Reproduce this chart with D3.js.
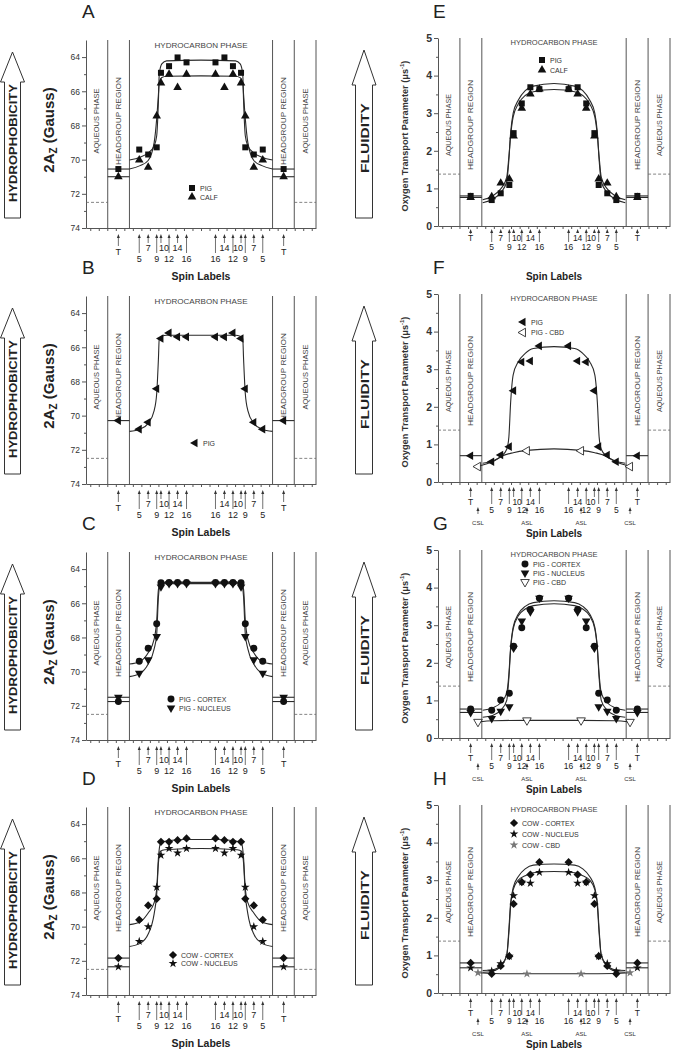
<!DOCTYPE html>
<html>
<head>
<meta charset="utf-8">
<script src="https://cdn.jsdelivr.net/npm/d3@7/dist/d3.min.js"></script>
<style>
  body { margin: 0; background: #fff; }
  svg { display: block; font-family: "Liberation Sans", Arial, sans-serif; }
</style>
</head>
<body>
<div id="fig"></div>
<script>
// spin-label positions across the bilayer (depth units, bilayer centre = 0, left leaflet)
const spinNames = ["T", "5", "7", "9", "10", "12", "14", "16"];
const spinPos = [-19.4, -14.5, -12.4, -10.4, -9.4, -7.5, -5.5, -3.4];
const upperNames = ["T", "7", "10", "14"];
const regionEdges = [-21.9, -16.8];          // aqueous|headgroup, headgroup|hydrocarbon
const cbdNames = ["CSL", "ASL"];
const cbdPos = [-17.7, -6.3];
const azTicks = [64, 66, 68, 70, 72, 74];
const otpTicks = [0, 1, 2, 3, 4, 5];
const azWater = 72.5;
const otpWater = 1.38;

// values per spin label, order = spinNames ; fits = [position, value] from headgroup edge to centre
// A
const aPig  = [70.55, 69.41, 69.7, 69.28, 64.92, 64.53, 64.02, 64.31];
const aCalf = [71.0, 70.02, 70.45, 67.45, 65.51, 65.0, 65.78, 65.0];
const aPigFit  = [[-16.8, 70.02], [-14.3, 69.86], [-12.4, 69.6], [-11.0, 69.2], [-10.4, 68.6], [-10.0, 66.6], [-9.8, 65.0], [-9.2, 64.4], [-8.1, 64.22], [0, 64.18]];
const aCalfFit = [[-16.8, 70.55], [-14.3, 70.35], [-12.4, 70.05], [-11.0, 69.0], [-10.4, 67.6], [-10.0, 66.2], [-9.8, 65.5], [-9.2, 65.2], [-8.1, 65.12], [0, 65.1]];
// B
const bPig = [70.29, 70.79, 70.39, 68.43, 65.49, 65.16, 65.39, 65.39];
const bPigFit = [[-16.8, 70.92], [-14.3, 70.79], [-12.4, 70.45], [-11.0, 69.7], [-10.4, 68.7], [-10.0, 66.7], [-9.8, 65.5], [-9.2, 65.35], [-8.1, 65.3], [0, 65.3]];
// C
const cCortex  = [71.75, 69.39, 68.63, 67.2, 64.8, 64.78, 64.78, 64.78];
const cNucleus = [71.5, 70.1, 69.31, 67.94, 65.04, 64.85, 64.85, 64.85];
const cCortexFit  = [[-16.8, 69.55], [-14.3, 69.4], [-12.4, 68.9], [-11.0, 68.1], [-10.4, 67.0], [-10.0, 65.2], [-9.6, 64.85], [-8.5, 64.78], [0, 64.78]];
const cNucleusFit = [[-16.8, 70.29], [-14.3, 70.1], [-12.4, 69.55], [-11.0, 68.67], [-10.4, 67.8], [-10.0, 65.65], [-9.6, 64.95], [-8.5, 64.85], [0, 64.85]];
// D
const dCortex  = [71.84, 69.6, 68.76, 68.37, 65.04, 65.04, 64.94, 64.84];
const dNucleus = [72.35, 70.86, 70.0, 67.69, 65.82, 65.43, 65.69, 65.43];
const dCortexFit  = [[-16.8, 69.88], [-14.3, 69.73], [-12.4, 69.2], [-11.0, 68.6], [-10.4, 67.8], [-10.0, 66.0], [-9.6, 65.2], [-8.5, 65.0], [-4.0, 64.9], [0, 64.9]];
const dNucleusFit = [[-16.8, 71.16], [-14.3, 70.98], [-12.4, 70.43], [-11.0, 69.25], [-10.4, 68.1], [-10.0, 66.3], [-9.6, 65.6], [-8.5, 65.5], [0, 65.43]];
// E
const ePig  = [0.80, 0.69, 0.87, 1.09, 2.47, 3.26, 3.69, 3.64];
const eCalf = [0.76, 0.78, 1.14, 1.25, 2.39, 3.13, 3.51, 3.64];
const ePigFit  = [[-16.6, 0.62], [-14.3, 0.71], [-12.3, 0.9], [-11.0, 1.18], [-10.5, 1.76], [-10.1, 2.47], [-9.5, 3.0], [-8.3, 3.35], [-6.7, 3.6], [-4.8, 3.72], [0, 3.79]];
const eCalfFit = [[-16.6, 0.70], [-14.3, 0.8], [-12.3, 1.0], [-11.0, 1.3], [-10.5, 1.85], [-10.1, 2.4], [-9.5, 2.9], [-8.3, 3.25], [-6.7, 3.47], [-4.8, 3.57], [0, 3.63]];
// F
const fPig = [0.70, 0.54, 0.72, 0.94, 2.43, 3.19, 3.22, 3.62];
const fCbd = [0.41, 0.83];
const fPigFit = [[-16.6, 0.5], [-14.3, 0.56], [-12.3, 0.68], [-11.0, 0.87], [-10.5, 1.2], [-10.1, 2.1], [-9.5, 2.85], [-8.3, 3.2], [-6.7, 3.42], [-4.8, 3.55], [0, 3.6]];
const fCbdFit = [[-17.7, 0.42], [-14.1, 0.55], [-12.3, 0.68], [-9.5, 0.78], [-6.3, 0.84], [0, 0.88]];
// G
const gCortex  = [0.77, 0.74, 1.01, 1.19, 2.44, 2.93, 3.42, 3.72];
const gNucleus = [0.68, 0.52, 0.71, 0.83, 2.39, 3.11, 3.36, 3.72];
const gCbd = [0.43, 0.47];
const gCortexFit  = [[-16.6, 0.74], [-14.3, 0.8], [-12.3, 0.95], [-11.0, 1.2], [-10.5, 1.7], [-10.1, 2.4], [-9.5, 2.95], [-8.3, 3.3], [-6.7, 3.5], [-4.8, 3.6], [0, 3.65]];
const gNucleusFit = [[-16.6, 0.55], [-14.3, 0.6], [-12.3, 0.75], [-11.0, 1.0], [-10.5, 1.6], [-10.1, 2.35], [-9.5, 2.9], [-8.3, 3.25], [-6.7, 3.43], [-4.8, 3.52], [0, 3.57]];
const gCbdFit = [[-17.7, 0.43], [-14.1, 0.46], [-6.3, 0.47], [0, 0.47]];
// H
const hCortex  = [0.80, 0.51, 0.72, 0.98, 2.37, 2.95, 3.15, 3.48];
const hNucleus = [0.67, 0.58, 0.78, 0.98, 2.59, 2.95, 2.92, 3.21];
const hCbd = [0.54, 0.51];
const hCortexFit  = [[-16.6, 0.6], [-14.3, 0.62], [-12.3, 0.75], [-11.0, 1.0], [-10.5, 1.6], [-10.1, 2.3], [-9.5, 2.8], [-8.3, 3.1], [-6.7, 3.3], [-4.8, 3.4], [0, 3.43]];
const hNucleusFit = [[-16.6, 0.55], [-14.3, 0.58], [-12.3, 0.72], [-11.0, 1.0], [-10.5, 1.7], [-10.1, 2.4], [-9.5, 2.75], [-8.3, 3.0], [-6.7, 3.12], [-4.8, 3.2], [0, 3.23]];
const hCbdFit = [[-17.7, 0.54], [-14.1, 0.52], [-6.3, 0.51], [0, 0.51]];

const rowTop = [0, 256, 512, 767];

// column geometry
const colL = {x0: 86, x1: 316, top: 40, bottom: 228, domain: [63, 74], ticks: azTicks, minor: [65, 67, 69, 71, 73],
  water: azWater, regionY: 121, hcY: 48, aqLen: 65, hgLen: 88, hcLen: 93,
  arrow: {cx: 12.5, half: 12, shaft: 8, tip: 52, base: 82, end: 218, text: "HYDROPHOBICITY", ty: 143, len: 118}};
const colR = {x0: 438, x1: 670, top: 38, bottom: 226, domain: [0, 5], ticks: otpTicks, minor: [0.5, 1.5, 2.5, 3.5, 4.5],
  water: otpWater, regionY: 125, hcY: 45, aqLen: 62, hgLen: 90, hcLen: 87,
  arrow: {cx: 364, half: 12, shaft: 8.5, tip: 50, base: 85, end: 218, text: "FLUIDITY", ty: 138, len: 70}};

// label block layouts
const labsL = {tip: 234, tEnd: 246, upEnd: 243, lowEnd: 253, tY: 255, upY: 251, lowY: 261.5, titleY: 280, fs: 9, title: 10.5, shift10: 3};
const labsE = {tip: 229, tEnd: 234, upEnd: 233, lowEnd: 242, tY: 240.5, upY: 240.5, lowY: 250, titleY: 280, fs: 8.5, title: 10, shift10: 3};
const labsC = {tip: 231, tEnd: 241, upEnd: 241, lowEnd: 248, tY: 249, upY: 249, lowY: 257, titleY: 281, fs: 8.5, title: 10, shift10: 3.5,
  cbdTip: 251, cbdEnd: 258, cbdY: 269};

const panels = [
  {col: "L", row: 0, letter: "A", labs: labsL, legend: [192, 188, 9],
    series: [{vals: aPig, m: "square", name: "PIG"}, {vals: aCalf, m: "triangle", name: "CALF"}], fits: [aPigFit, aCalfFit]},
  {col: "L", row: 1, letter: "B", labs: labsL, legend: [195, 187, 9],
    series: [{vals: bPig, m: "left", name: "PIG"}], fits: [bPigFit]},
  {col: "L", row: 2, letter: "C", labs: labsL, legend: [171, 187, 9],
    series: [{vals: cCortex, m: "circle", name: "PIG - CORTEX"}, {vals: cNucleus, m: "down", name: "PIG - NUCLEUS"}], fits: [cCortexFit, cNucleusFit]},
  {col: "L", row: 3, letter: "D", labs: labsL, legend: [173, 188, 8.5],
    series: [{vals: dCortex, m: "diamond", name: "COW - CORTEX"}, {vals: dNucleus, m: "star", name: "COW - NUCLEUS"}], fits: [dCortexFit, dNucleusFit]},
  {col: "R", row: 0, letter: "E", labs: labsE, legend: [542, 60, 10],
    series: [{vals: ePig, m: "square", name: "PIG"}, {vals: eCalf, m: "triangle", name: "CALF"}], fits: [ePigFit, eCalfFit]},
  {col: "R", row: 1, letter: "F", labs: labsC, legend: [523, 66, 10.5], cbd: true,
    series: [{vals: fPig, m: "left", name: "PIG"}, {vals: fCbd, m: "left", open: true, cbd: true, name: "PIG - CBD"}], fits: [fPigFit, fCbdFit]},
  {col: "R", row: 2, letter: "G", labs: labsC, legend: [525, 52, 9], cbd: true,
    series: [{vals: gCortex, m: "circle", name: "PIG - CORTEX"}, {vals: gNucleus, m: "down", name: "PIG - NUCLEUS"},
             {vals: gCbd, m: "down", open: true, cbd: true, name: "PIG - CBD"}], fits: [gCortexFit, gNucleusFit, gCbdFit]},
  {col: "R", row: 3, letter: "H", labs: labsC, legend: [514, 56, 11], cbd: true,
    series: [{vals: hCortex, m: "diamond", name: "COW - CORTEX"}, {vals: hNucleus, m: "star", name: "COW - NUCLEUS"},
             {vals: hCbd, m: "star", grey: true, cbd: true, name: "COW - CBD"}], fits: [hCortexFit, hNucleusFit, hCbdFit]}
];

const svg = d3.select("#fig").append("svg").attr("width", 678).attr("height", 1050);
const ink = "#2a2a2a", frame = "#555";

// the figure draws each measurement in both leaflets
function bothLeaflets(half) {
  const right = half.filter(d => d[0] !== 0).map(d => [-d[0], d[1]]).reverse();
  return half.concat(right);
}

const symbolDefs = {
  square: [d3.symbolSquare, 36, 0], triangle: [d3.symbolTriangle, 32, 0], left: [d3.symbolTriangle, 32, -90],
  down: [d3.symbolTriangle, 32, 180], circle: [d3.symbolCircle, 38, 0], diamond: [d3.symbolSquare, 34, 45],
  star: [d3.symbolStar, 24, 0]
};
function marker(sel, s, px, py) {
  const def = symbolDefs[s.m];
  sel.append("path")
    .attr("d", d3.symbol(def[0], def[1])())
    .attr("transform", `translate(${px},${py}) rotate(${def[2]})`)
    .attr("fill", s.open ? "#fff" : (s.grey ? "#777" : "#111"))
    .attr("stroke", s.open ? "#111" : "none")
    .attr("stroke-width", 0.8);
}

function upArrow(g, px, y0, y1) {
  g.append("line").attr("x1", px).attr("x2", px).attr("y1", y0 + 3).attr("y2", y1)
    .attr("stroke", "#333").attr("stroke-width", 0.7);
  g.append("path").attr("d", `M${px},${y0}L${px - 1.5},${y0 + 4}L${px + 1.5},${y0 + 4}Z`).attr("fill", "#333");
}

function drawPanel(p) {
  const C = p.col === "L" ? colL : colR;
  const g = svg.append("g").attr("transform", `translate(0,${rowTop[p.row]})`);
  const x = d3.scaleLinear().domain([-27, 27]).range([C.x0, C.x1]);
  const y = d3.scaleLinear().domain(C.domain).range(p.col === "L" ? [C.top, C.bottom] : [C.bottom, C.top]);
  const edges = [regionEdges[0], regionEdges[1], -regionEdges[1], -regionEdges[0]];

  // big arrow at the far left of each panel
  const A = C.arrow;
  g.append("path")
    .attr("d", `M${A.cx},${A.tip}L${A.cx + A.half},${A.base}L${A.cx + A.shaft},${A.base}L${A.cx + A.shaft},${A.end}` +
               `L${A.cx - A.shaft},${A.end}L${A.cx - A.shaft},${A.base}L${A.cx - A.half},${A.base}Z`)
    .attr("fill", "#fff").attr("stroke", "#333").attr("stroke-width", 1);
  g.append("text").attr("transform", `translate(${A.cx + 0.5},${A.ty}) rotate(-90)`)
    .attr("text-anchor", "middle").attr("dominant-baseline", "central")
    .attr("font-size", 11.5).attr("font-weight", "bold").attr("fill", "#222")
    .attr("textLength", A.len).attr("lengthAdjust", "spacingAndGlyphs").text(A.text);

  // panel letter
  g.append("text").attr("x", p.col === "L" ? 82 : 433).attr("y", 18)
    .attr("font-size", 19).attr("fill", "#222").text(p.letter);

  // y axis title
  if (p.col === "L") {
    const t = g.append("text").attr("transform", "translate(54,130) rotate(-90)")
      .attr("text-anchor", "middle").attr("font-size", 15).attr("font-weight", "bold").attr("fill", "#222");
    t.append("tspan").text("2A");
    t.append("tspan").attr("font-size", 10).attr("dy", 3).text("Z");
    t.append("tspan").attr("dy", -3).text(" (Gauss)");
  } else {
    const t = g.append("text").attr("transform", "translate(408,136) rotate(-90)")
      .attr("text-anchor", "middle").attr("font-size", 9.2).attr("font-weight", "bold").attr("fill", "#333");
    t.append("tspan").text("Oxygen Transport Parameter (\u03bcs");
    t.append("tspan").attr("font-size", 6).attr("dy", -4).text("-1");
    t.append("tspan").attr("dy", 4).text(")");
  }

  // axes
  const yAx = g.append("g").attr("transform", `translate(${C.x0},0)`)
    .call(d3.axisLeft(y).tickValues(C.ticks).tickFormat(d3.format("d")).tickSize(4).tickSizeOuter(0).tickPadding(2));
  yAx.selectAll("text").attr("font-size", p.col === "L" ? 8.5 : 10.5)
    .attr("font-weight", p.col === "L" ? "normal" : "bold").attr("fill", "#333");
  const yMin = g.append("g").attr("transform", `translate(${C.x0},0)`)
    .call(d3.axisLeft(y).tickValues(C.minor).tickSize(2).tickFormat(""));
  yMin.select(".domain").remove();
  g.append("g").attr("transform", `translate(0,${C.bottom})`)
    .call(d3.axisBottom(x).tickValues(d3.range(-26, 27, 2)).tickSize(3).tickFormat("").tickSizeOuter(0));
  g.selectAll(".domain, .tick line").attr("stroke", frame);

  // region boundaries and right frame
  g.selectAll("line.edge").data(edges.concat([27])).join("line").attr("class", "edge")
    .attr("x1", d => x(d)).attr("x2", d => x(d)).attr("y1", C.top).attr("y2", C.bottom)
    .attr("stroke", frame).attr("stroke-width", 1);

  // water level (dashed) in aqueous phase
  [[-27, edges[0]], [edges[3], 27]].forEach(s => {
    g.append("line").attr("x1", x(s[0])).attr("x2", x(s[1])).attr("y1", y(C.water)).attr("y2", y(C.water))
      .attr("stroke", "#666").attr("stroke-dasharray", "3,2").attr("stroke-width", 0.8);
  });

  // region names
  const rt = (cx, cy, txt, len) => g.append("text").attr("transform", `translate(${cx},${cy}) rotate(-90)`)
    .attr("text-anchor", "middle").attr("dominant-baseline", "central").attr("font-size", 8).attr("fill", "#444")
    .attr("textLength", len).attr("lengthAdjust", "spacingAndGlyphs").text(txt);
  rt((x(-27) + x(edges[0])) / 2, C.regionY, "AQUEOUS PHASE", C.aqLen);
  rt((x(edges[0]) + x(edges[1])) / 2, C.regionY, "HEADGROUP REGION", C.hgLen);
  rt((x(edges[2]) + x(edges[3])) / 2, C.regionY, "HEADGROUP REGION", C.hgLen);
  rt((x(edges[3]) + x(27)) / 2, C.regionY, "AQUEOUS PHASE", C.aqLen);
  g.append("text").attr("x", x(0)).attr("y", C.hcY).attr("text-anchor", "middle").attr("font-size", 8).attr("fill", "#444")
    .attr("textLength", C.hcLen).attr("lengthAdjust", "spacingAndGlyphs").text("HYDROCARBON PHASE");

  // fitted profiles
  const line = d3.line().x(d => x(d[0])).y(d => y(d[1])).curve(d3.curveMonotoneX);
  p.fits.forEach(f => {
    g.append("path").attr("d", line(bothLeaflets(f))).attr("fill", "none").attr("stroke", ink).attr("stroke-width", 1.1);
  });
  // headgroup level (label T) in both headgroup regions
  p.series.filter(s => !s.cbd).forEach(s => {
    [[edges[0], edges[1]], [edges[2], edges[3]]].forEach(r => {
      g.append("line").attr("x1", x(r[0])).attr("x2", x(r[1])).attr("y1", y(s.vals[0])).attr("y2", y(s.vals[0]))
        .attr("stroke", ink).attr("stroke-width", 1.1);
    });
  });

  // markers
  p.series.forEach(s => {
    const pos = s.cbd ? cbdPos : spinPos;
    s.vals.forEach((v, i) => {
      marker(g, s, x(pos[i]), y(v));
      marker(g, s, x(-pos[i]), y(v));
    });
  });

  // legend
  p.series.forEach((s, i) => {
    const ly = p.legend[1] + i * p.legend[2];
    marker(g, s, p.legend[0], ly);
    g.append("text").attr("x", p.legend[0] + 8).attr("y", ly).attr("dominant-baseline", "central")
      .attr("font-size", 7).attr("fill", "#333").text(s.name);
  });

  // spin label arrows
  const Lb = p.labs;
  const lg = g.append("g");
  spinNames.forEach((nm, i) => {
    const up = upperNames.includes(nm);
    const end = nm === "T" ? Lb.tEnd : (up ? Lb.upEnd : Lb.lowEnd);
    const ty = nm === "T" ? Lb.tY : (up ? Lb.upY : Lb.lowY);
    [1, -1].forEach(side => {
      const px = x(side * spinPos[i]);
      upArrow(lg, px, Lb.tip, end);
      const shift = nm === "10" ? side * Lb.shift10 : 0;
      lg.append("text").attr("x", px + shift).attr("y", ty).attr("text-anchor", "middle")
        .attr("font-size", Lb.fs).attr("fill", "#222").text(nm);
    });
  });
  if (p.cbd) {
    cbdNames.forEach((nm, i) => {
      [1, -1].forEach(side => {
        const px = x(side * cbdPos[i]);
        upArrow(lg, px, Lb.cbdTip, Lb.cbdEnd);
        lg.append("text").attr("x", px).attr("y", Lb.cbdY).attr("text-anchor", "middle")
          .attr("font-size", 6).attr("fill", "#333").text(nm);
      });
    });
  }
  g.append("text").attr("x", x(0)).attr("y", Lb.titleY).attr("text-anchor", "middle")
    .attr("font-size", Lb.title).attr("font-weight", "bold").attr("fill", "#222").text("Spin Labels");
}

panels.forEach(drawPanel);
</script>
</body>
</html>
